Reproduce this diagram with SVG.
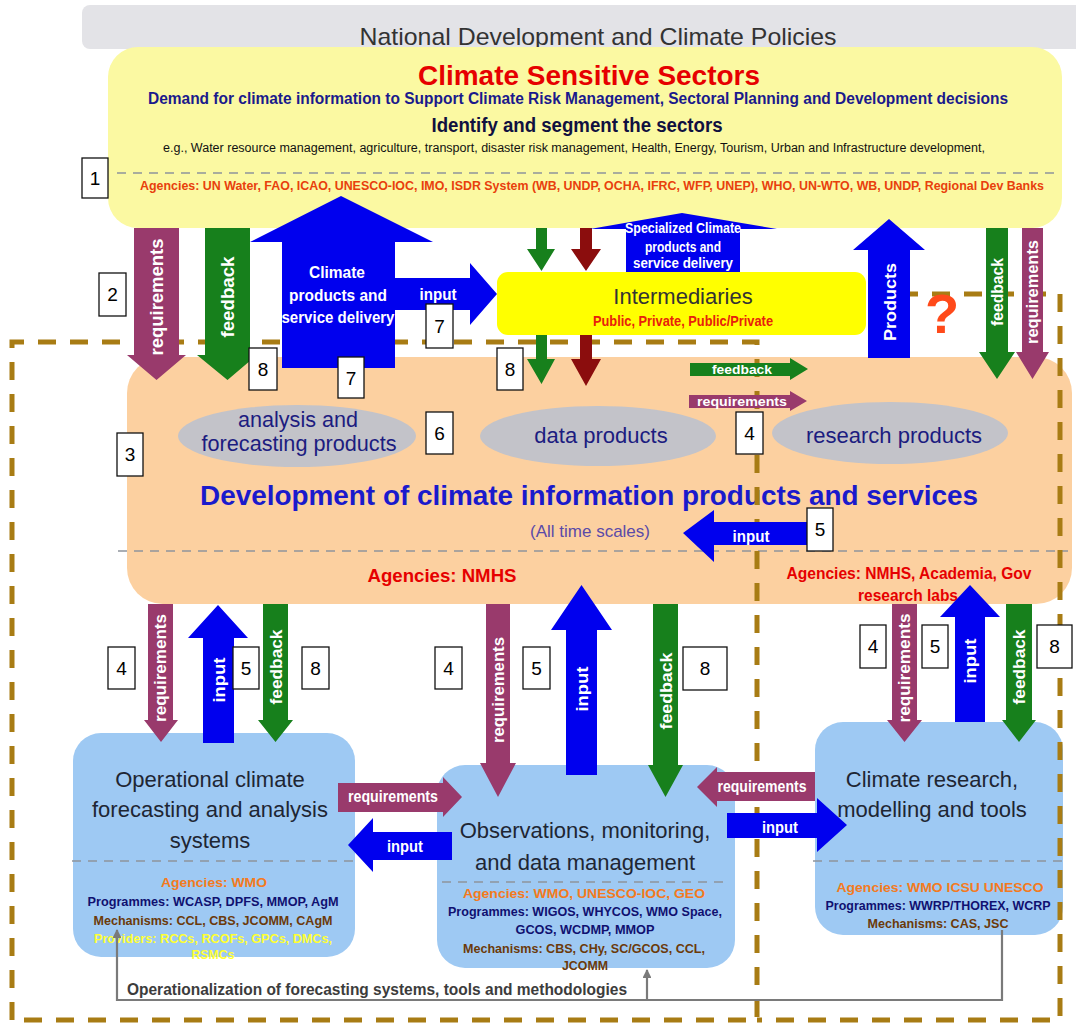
<svg xmlns="http://www.w3.org/2000/svg" width="1076" height="1026" viewBox="0 0 1076 1026">
<style>
.f{font-family:"Liberation Sans",Arial,sans-serif}
.nw{font-family:"Liberation Sans Narrow","Liberation Sans",Arial,sans-serif;font-weight:bold}
.w{fill:#fff}
.c{text-anchor:middle}
.pur{fill:#993a6c}.grn{fill:#17801c}.blu{fill:#0000ee}.drd{fill:#8b0d0d}
.num rect{fill:#fff;stroke:#111;stroke-width:1.3}
.num text{font-family:"Liberation Sans",Arial,sans-serif;font-size:19px;fill:#000;text-anchor:middle}
.bx{fill:#9ec9f3}
.ttl{font-family:"Liberation Sans",Arial,sans-serif;font-size:22px;fill:#1e2633;text-anchor:middle}
.ag{fill:#f47a20}.pg{fill:#101070}.me{fill:#6b3a0a}.pv{fill:#ffff33}
.sm{font-size:13px}
.dash{fill:none;stroke:#a87c14;stroke-width:5;stroke-dasharray:18 14}
.sep{fill:none;stroke:#8e949c;stroke-width:1.6;stroke-dasharray:9 7}
.ell{fill:#c3c3c9}
.et{font-family:"Liberation Sans",Arial,sans-serif;font-size:22px;fill:#1c1c80;text-anchor:middle}
</style>
<defs>
<marker id="gh" viewBox="0 0 10 10" refX="9" refY="5" markerWidth="4" markerHeight="4" orient="auto"><path d="M0,0 L10,5 L0,10 z" fill="#7a7a7a"/></marker>
</defs>
<rect width="1076" height="1026" fill="#fff"/>

<g id="policies">
<rect x="82" y="5" width="1010" height="44" rx="8" fill="#e3e3e7"/>
<text class="f c" x="598" y="45" font-size="24" fill="#333" textLength="477" lengthAdjust="spacingAndGlyphs">National Development and Climate Policies</text>
</g>

<g id="sectors">
<rect x="108" y="47" width="954" height="181" rx="30" fill="#fbf9a2"/>
<text class="f c" x="589" y="85" font-size="28" font-weight="bold" fill="#e60000" textLength="342" lengthAdjust="spacingAndGlyphs">Climate Sensitive Sectors</text>
<text class="nw c" x="578" y="104" font-size="16" fill="#1a1a8c" textLength="860" lengthAdjust="spacingAndGlyphs">Demand for climate information to Support Climate Risk Management, Sectoral Planning and Development decisions</text>
<text class="f c" x="577" y="132" font-size="20" font-weight="bold" fill="#101040" textLength="291" lengthAdjust="spacingAndGlyphs">Identify and segment the sectors</text>
<text class="f c" x="574" y="152" font-size="12.5" fill="#111" textLength="822" lengthAdjust="spacingAndGlyphs">e.g., Water resource management, agriculture, transport, disaster risk management, Health, Energy, Tourism, Urban and Infrastructure development,</text>
<line class="sep" x1="117" y1="173" x2="1060" y2="173" stroke="#b4b4b4"/>
<text class="nw c" x="592" y="190" font-size="12.5" fill="#e8400c" textLength="904" lengthAdjust="spacingAndGlyphs">Agencies: UN Water, FAO, ICAO, UNESCO-IOC, IMO, ISDR System (WB, UNDP, OCHA, IFRC, WFP, UNEP), WHO, UN-WTO, WB, UNDP, Regional Dev Banks</text>
</g>

<g id="intermediaries">
<rect x="497" y="272" width="369" height="63" rx="11" fill="#ffff00"/>
<text class="f c" x="683" y="304" font-size="22" fill="#333">Intermediaries</text>
<text class="nw c" x="683" y="326" font-size="14" fill="#e8200c" textLength="180" lengthAdjust="spacingAndGlyphs">Public, Private, Public/Private</text>
</g>

<g id="development">
<rect x="127" y="357" width="945" height="247" rx="36" fill="#fcd0a0"/>
<ellipse class="ell" cx="297" cy="436" rx="119" ry="31"/>
<ellipse class="ell" cx="598" cy="436" rx="118" ry="30"/>
<ellipse class="ell" cx="890" cy="433" rx="118" ry="31"/>
<text class="et" x="298" y="427" textLength="120" lengthAdjust="spacingAndGlyphs">analysis and</text>
<text class="et" x="299" y="451" textLength="195" lengthAdjust="spacingAndGlyphs">forecasting products</text>
<text class="et" x="601" y="443">data products</text>
<text class="et" x="894" y="443">research products</text>
<text class="f c" x="589" y="505" font-size="28" font-weight="bold" fill="#1a1acc" textLength="778" lengthAdjust="spacingAndGlyphs">Development of climate information products and services</text>
<text class="f c" x="590" y="537" font-size="17" fill="#5a4aa8">(All time scales)</text>
<line class="sep" x1="118" y1="551" x2="1068" y2="551" stroke="#a6acb8"/>
<text class="f c" x="442" y="582" font-size="18" font-weight="bold" fill="#e60000" textLength="149" lengthAdjust="spacingAndGlyphs">Agencies: NMHS</text>
<text class="nw c" x="909" y="579" font-size="16" fill="#e60000" textLength="245" lengthAdjust="spacingAndGlyphs">Agencies: NMHS, Academia, Gov</text>
<text class="nw c" x="908" y="601" font-size="16" fill="#e60000" textLength="100" lengthAdjust="spacingAndGlyphs">research labs</text>
</g>

<g id="operational">
<rect class="bx" x="73" y="733" width="282" height="224" rx="28"/>
<text class="ttl" x="210" y="787">Operational climate</text>
<text class="ttl" x="210" y="817">forecasting and analysis</text>
<text class="ttl" x="210" y="848">systems</text>
<line class="sep" x1="72" y1="861" x2="360" y2="861"/>
<text class="nw c ag sm" x="214" y="887" textLength="106" lengthAdjust="spacingAndGlyphs">Agencies: WMO</text>
<text class="nw c pg sm" x="213" y="906" textLength="251" lengthAdjust="spacingAndGlyphs">Programmes: WCASP, DPFS, MMOP, AgM</text>
<text class="nw c me sm" x="213" y="925" textLength="239" lengthAdjust="spacingAndGlyphs">Mechanisms: CCL, CBS, JCOMM, CAgM</text>
<text class="nw c pv sm" x="213" y="943" textLength="238" lengthAdjust="spacingAndGlyphs">Providers: RCCs, RCOFs, GPCs, DMCs,</text>
<text class="nw c pv sm" x="213" y="959" textLength="43" lengthAdjust="spacingAndGlyphs">RSMCs</text>
</g>

<g id="observations">
<rect class="bx" x="437" y="765" width="298" height="203" rx="28"/>
<text class="ttl" x="585" y="838">Observations, monitoring,</text>
<text class="ttl" x="585" y="870">and data management</text>
<line class="sep" x1="442" y1="882" x2="728" y2="882" stroke="#b0a0a0"/>
<text class="nw c ag sm" x="584" y="898" textLength="242" lengthAdjust="spacingAndGlyphs">Agencies: WMO, UNESCO-IOC, GEO</text>
<text class="nw c pg sm" x="585" y="916" textLength="274" lengthAdjust="spacingAndGlyphs">Programmes: WIGOS, WHYCOS, WMO Space,</text>
<text class="nw c pg sm" x="585" y="934" textLength="139" lengthAdjust="spacingAndGlyphs">GCOS, WCDMP, MMOP</text>
<text class="nw c me sm" x="584" y="953" textLength="242" lengthAdjust="spacingAndGlyphs">Mechanisms: CBS, CHy, SC/GCOS, CCL,</text>
<text class="nw c me sm" x="585" y="970" textLength="46" lengthAdjust="spacingAndGlyphs">JCOMM</text>
</g>

<g id="research">
<rect class="bx" x="815" y="722" width="248" height="213" rx="28"/>
<text class="ttl" x="932" y="787">Climate research,</text>
<text class="ttl" x="932" y="817">modelling and tools</text>
<line class="sep" x1="813" y1="861" x2="1063" y2="861"/>
<text class="nw c ag sm" x="940" y="892" textLength="207" lengthAdjust="spacingAndGlyphs">Agencies: WMO ICSU UNESCO</text>
<text class="nw c pg sm" x="938" y="910" textLength="225" lengthAdjust="spacingAndGlyphs">Programmes: WWRP/THOREX, WCRP</text>
<text class="nw c me sm" x="938" y="928" textLength="141" lengthAdjust="spacingAndGlyphs">Mechanisms: CAS, JSC</text>
</g>

<g id="boundaries">
<path class="dash" d="M12,1020 V342 H757 V1020 Z"/>
<path class="dash" d="M868,294 H1060 V1020 H757"/>
</g>

<g id="connectors">
<polygon class="pur" points="134,228 179,228 179,355 186,355 156.5,380 127,355 134,355"/>
<text class="nw w c" transform="translate(163,297) rotate(-90)" font-size="19" textLength="117" lengthAdjust="spacingAndGlyphs">requirements</text>
<polygon class="grn" points="205,228 250,228 250,355 257,355 227.5,380 197,355 205,355"/>
<text class="nw w c" transform="translate(234,297) rotate(-90)" font-size="19" textLength="81" lengthAdjust="spacingAndGlyphs">feedback</text>
<polygon class="blu" points="282,368 395,368 395,242 433,242 341,196 250,242 282,242"/>
<polygon class="blu" points="395,278 470,278 470,263 497,294 470,325 470,310 395,310"/>
<text class="nw w c" x="337" y="278" font-size="17" textLength="56" lengthAdjust="spacingAndGlyphs">Climate</text>
<text class="nw w c" x="338" y="301" font-size="17" textLength="98" lengthAdjust="spacingAndGlyphs">products and</text>
<text class="nw w c" x="338" y="323" font-size="17" textLength="113" lengthAdjust="spacingAndGlyphs">service delivery</text>
<text class="nw w c" x="438" y="300" font-size="17" textLength="37" lengthAdjust="spacingAndGlyphs">input</text>
<polygon class="grn" points="536,228 547,228 547,249 555,249 541.5,271 527,249 536,249"/>
<polygon class="drd" points="580,228 592,228 592,249 601,249 586,271 571,249 580,249"/>
<polygon class="grn" points="536,335 547,335 547,359 555,359 541.5,384 527,359 536,359"/>
<polygon class="drd" points="580,335 592,335 592,359 601,359 586,386 571,359 580,359"/>
<polygon class="blu" points="626,272 740,272 740,229 777,229 682,213 590,229 626,229"/>
<text class="nw w c" x="683" y="233" font-size="14" textLength="116" lengthAdjust="spacingAndGlyphs">Specialized Climate</text>
<text class="nw w c" x="683" y="252" font-size="14" textLength="76" lengthAdjust="spacingAndGlyphs">products and</text>
<text class="nw w c" x="683" y="268" font-size="14" textLength="100" lengthAdjust="spacingAndGlyphs">service delivery</text>
<polygon class="blu" points="868,358 910,358 910,250 925,250 889,219 853,250 868,250"/>
<text class="nw w c" transform="translate(896,302) rotate(-90)" font-size="17" textLength="78" lengthAdjust="spacingAndGlyphs">Products</text>
<text class="f c" x="942" y="333" font-size="56" font-weight="bold" fill="#ff4a1a">?</text>
<polygon class="grn" points="986,228 1008,228 1008,352 1015,352 997,379 979,352 986,352"/>
<text class="nw w c" transform="translate(1003,292) rotate(-90)" font-size="16" textLength="68" lengthAdjust="spacingAndGlyphs">feedback</text>
<polygon class="pur" points="1022,228 1043,228 1043,352 1049,352 1032.5,379 1016,352 1022,352"/>
<text class="nw w c" transform="translate(1038,292) rotate(-90)" font-size="16" textLength="104" lengthAdjust="spacingAndGlyphs">requirements</text>
<polygon class="grn" points="690,363 790,363 790,358 808,369 790,380 790,376 690,376"/>
<text class="nw w c" x="742" y="374" font-size="13" textLength="60" lengthAdjust="spacingAndGlyphs">feedback</text>
<polygon class="pur" points="689,395 790,395 790,391 807,401 790,411 790,408 689,408"/>
<text class="nw w c" x="742" y="406" font-size="13" textLength="90" lengthAdjust="spacingAndGlyphs">requirements</text>
<polygon class="blu" points="807,522 714,522 714,510 683,533 714,562 714,545 807,545"/>
<text class="nw w c" x="751" y="542" font-size="16" textLength="37" lengthAdjust="spacingAndGlyphs">input</text>
<polygon class="pur" points="148,604 173,604 173,720 178,720 161,742 144,720 148,720"/>
<text class="nw w c" transform="translate(166,668) rotate(-90)" font-size="16" textLength="108" lengthAdjust="spacingAndGlyphs">requirements</text>
<polygon class="blu" points="203,743 234,743 234,638 248,638 218,605 188,638 203,638"/>
<text class="nw w c" transform="translate(225,680) rotate(-90)" font-size="16" textLength="45" lengthAdjust="spacingAndGlyphs">input</text>
<polygon class="grn" points="263,604 288,604 288,720 293,720 275.5,742 258,720 263,720"/>
<text class="nw w c" transform="translate(282,667) rotate(-90)" font-size="16" textLength="75" lengthAdjust="spacingAndGlyphs">feedback</text>
<polygon class="pur" points="486,604 510,604 510,763 516,763 498,797 480,763 486,763"/>
<text class="nw w c" transform="translate(504,690) rotate(-90)" font-size="16" textLength="106" lengthAdjust="spacingAndGlyphs">requirements</text>
<polygon class="blu" points="566,775 597,775 597,630 612,630 581.5,585 551,630 566,630"/>
<text class="nw w c" transform="translate(588,689) rotate(-90)" font-size="16" textLength="45" lengthAdjust="spacingAndGlyphs">input</text>
<polygon class="grn" points="653,604 678,604 678,765 683,765 665.5,797 648,765 653,765"/>
<text class="nw w c" transform="translate(672,691) rotate(-90)" font-size="16" textLength="77" lengthAdjust="spacingAndGlyphs">feedback</text>
<polygon class="pur" points="892,604 917,604 917,720 922,720 904.5,742 887,720 892,720"/>
<text class="nw w c" transform="translate(910,668) rotate(-90)" font-size="16" textLength="109" lengthAdjust="spacingAndGlyphs">requirements</text>
<polygon class="blu" points="955,722 985,722 985,617 1000,617 970,585 940,617 955,617"/>
<text class="nw w c" transform="translate(976,661) rotate(-90)" font-size="16" textLength="45" lengthAdjust="spacingAndGlyphs">input</text>
<polygon class="grn" points="1006,604 1032,604 1032,720 1036,720 1019,742 1002,720 1006,720"/>
<text class="nw w c" transform="translate(1025,667) rotate(-90)" font-size="16" textLength="75" lengthAdjust="spacingAndGlyphs">feedback</text>
<polygon class="pur" points="338,783 443,783 443,777 462,797 443,817 443,812 338,812"/>
<text class="nw w c" x="393" y="802" font-size="16" textLength="90" lengthAdjust="spacingAndGlyphs">requirements</text>
<polygon class="blu" points="452,832 373,832 373,818 348,845 373,872 373,860 452,860"/>
<text class="nw w c" x="405" y="852" font-size="16" textLength="36" lengthAdjust="spacingAndGlyphs">input</text>
<polygon class="pur" points="815,772 717,772 717,767 697,787 717,807 717,801 815,801"/>
<text class="nw w c" x="762" y="792" font-size="16" textLength="89" lengthAdjust="spacingAndGlyphs">requirements</text>
<polygon class="blu" points="727,813 817,813 817,798 847,825 817,852 817,838 727,838"/>
<text class="nw w c" x="780" y="833" font-size="16" textLength="36" lengthAdjust="spacingAndGlyphs">input</text>
<path d="M1002,930 V1000 H117 V930" fill="none" stroke="#7a7a7a" stroke-width="2.2" marker-end="url(#gh)"/>
<path d="M647,1000 V970" fill="none" stroke="#7a7a7a" stroke-width="2.2" marker-end="url(#gh)"/>
<text class="nw" x="127" y="995" font-size="16" fill="#3c3c3c" textLength="500" lengthAdjust="spacingAndGlyphs">Operationalization of forecasting systems, tools and methodologies</text>
</g>

<g id="numbers" class="num">
<rect x="82" y="158" width="26" height="40"/><text x="95" y="185">1</text>
<rect x="99" y="273" width="27" height="43"/><text x="112.5" y="301">2</text>
<rect x="426" y="304" width="27" height="44"/><text x="439.5" y="333">7</text>
<rect x="249" y="348" width="28" height="42"/><text x="263" y="376">8</text>
<rect x="338" y="357" width="26" height="41"/><text x="351" y="385">7</text>
<rect x="497" y="348" width="26" height="42"/><text x="510" y="376">8</text>
<rect x="117" y="433" width="26" height="43"/><text x="130" y="461">3</text>
<rect x="426" y="412" width="27" height="42"/><text x="439.5" y="440">6</text>
<rect x="736" y="412" width="27" height="42"/><text x="749.5" y="440">4</text>
<rect x="807" y="508" width="26" height="43"/><text x="820" y="536">5</text>
<rect x="108" y="647" width="27" height="42"/><text x="121.5" y="675">4</text>
<rect x="233" y="647" width="26" height="42"/><text x="246" y="675">5</text>
<rect x="302" y="647" width="27" height="42"/><text x="315.5" y="675">8</text>
<rect x="435" y="647" width="27" height="42"/><text x="448.5" y="675">4</text>
<rect x="523" y="647" width="27" height="42"/><text x="536.5" y="675">5</text>
<rect x="683" y="647" width="44" height="43"/><text x="705" y="675">8</text>
<rect x="860" y="625" width="26" height="43"/><text x="873" y="653">4</text>
<rect x="922" y="625" width="26" height="43"/><text x="935" y="653">5</text>
<rect x="1037" y="625" width="35" height="43"/><text x="1054.5" y="653">8</text>
</g>
</svg>
